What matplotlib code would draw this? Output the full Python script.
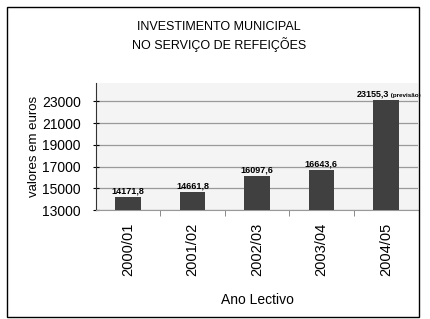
import matplotlib.pyplot as plt
from matplotlib.patches import Rectangle

# data
anos = ["2000/01", "2001/02", "2002/03", "2003/04", "2004/05"]
valores = [14171.8, 14661.8, 16097.6, 16643.6, 23155.3]
rotulos = ["14171,8", "14661,8", "16097,6", "16643,6", "23155,3"]
nota_ultimo = " (previsão)"
yticks = [13000, 15000, 17000, 19000, 21000, 23000]

plt.rcParams['font.family'] = ['Liberation Sans', 'DejaVu Sans']

fig = plt.figure(figsize=(4.3, 3.19), dpi=100)
ax = fig.add_axes([96/430, 1 - 210/319, (418 - 96)/430, (210 - 83)/319])

x = range(len(anos))
bars = ax.bar(x, valores, width=0.4, color='#404040', zorder=3)

ax.set_xlim(-0.5, len(anos) - 0.5)
ax.set_ylim(13000, 24700)
ax.set_yticks(yticks)
ax.set_yticklabels([str(v) for v in yticks], fontsize=10)
ax.set_xticks(list(x))
ax.set_xticklabels(anos, rotation=90, fontsize=10.5)
ax.tick_params(axis='x', length=0, pad=9)
ax.tick_params(axis='y', length=4, direction='inout', pad=9)
ax.set_xticks([i + 0.5 for i in range(len(anos) - 1)], minor=True)
ax.tick_params(axis='x', which='minor', length=4, direction='out', color='#777777')

ax.set_facecolor('#f4f4f4')
ax.grid(axis='y', color='#9a9a9a', linewidth=0.9, zorder=0)
for s in ['top', 'right']:
    ax.spines[s].set_visible(False)
ax.spines['left'].set_color('#333333')
ax.spines['bottom'].set_color('#999999')

# data labels
for i, (b, t) in enumerate(zip(bars, rotulos)):
    cx = b.get_x() + b.get_width() / 2
    if i == len(bars) - 1:
        ax.text(cx + 0.05, b.get_height() + 150, t, ha='right', va='bottom',
                fontsize=6.5, fontweight='bold', zorder=4)
        ax.text(cx + 0.05, b.get_height() + 150, nota_ultimo, ha='left', va='bottom',
                fontsize=4.5, fontweight='bold', zorder=4)
    else:
        ax.text(cx, b.get_height() + 150, t, ha='center', va='bottom',
                fontsize=6.5, fontweight='bold', zorder=4)

ax.set_ylabel("valores em euros", fontsize=9.5, labelpad=1)
ax.set_xlabel("Ano Lectivo", fontsize=10, labelpad=12)

fig.text(219/430, 1 - 27/319, "INVESTIMENTO MUNICIPAL", ha='center', va='center', fontsize=9)
fig.text(219/430, 1 - 45/319, "NO SERVIÇO DE REFEIÇÕES", ha='center', va='center', fontsize=9)

# outer border
fig.patches.append(Rectangle((7/430, 2/319), 412/430, 310/319, transform=fig.transFigure,
                             fill=False, edgecolor='black', linewidth=1))

fig.savefig("out.png", dpi=100)
